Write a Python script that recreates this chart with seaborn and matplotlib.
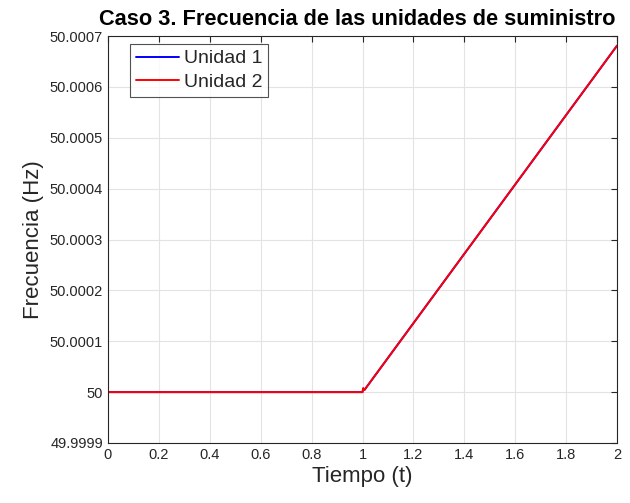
import numpy as np
import pandas as pd
import matplotlib
matplotlib.use("Agg")
import matplotlib.pyplot as plt
import seaborn as sns
from matplotlib.ticker import FuncFormatter

# Time samples (s) and frequency of each supply unit (Hz)
tiempo = [0.0, 0.5, 1.0, 1.003, 1.008, 1.5, 2.0]
unidad1 = [50.0, 50.0, 50.0, 50.0000075, 50.0000045, 50.00034, 50.000681]
unidad2 = [50.0, 50.0, 50.0, 50.0000075, 50.0000045, 50.00034, 50.000681]

series = ["Unidad 1", "Unidad 2"]
colores = ["#0000ff", "#ff0000"]

yticks = [49.9999, 50.0, 50.0001, 50.0002, 50.0003, 50.0004, 50.0005, 50.0006, 50.0007]
xticks = [0, 0.2, 0.4, 0.6, 0.8, 1.0, 1.2, 1.4, 1.6, 1.8, 2.0]

df = pd.concat([
    pd.DataFrame({"t": tiempo, "f": unidad1, "serie": series[0]}),
    pd.DataFrame({"t": tiempo, "f": unidad2, "serie": series[1]}),
])

sns.set_style("white")
plt.rcParams["font.family"] = ["Liberation Sans", "DejaVu Sans"]

fig = plt.figure(figsize=(6.3, 5.03), dpi=100)
ax = fig.add_axes([0.1714, 0.1193, 0.8080, 0.8091])

sns.lineplot(data=df, x="t", y="f", hue="serie", palette=colores,
             linewidth=1.4, ax=ax, estimator=None, sort=False)

ax.set_xlim(0, 2)
ax.set_ylim(49.9999, 50.0007)
ax.set_xticks(xticks)
ax.set_yticks(yticks)
ax.xaxis.set_major_formatter(FuncFormatter(lambda v, p: f"{v:g}"))
ax.yaxis.set_major_formatter(FuncFormatter(lambda v, p: f"{v:.4f}".rstrip("0").rstrip(".")))

ax.grid(True, color="#e3e3e3", linewidth=0.8)
ax.set_axisbelow(True)
for s in ax.spines.values():
    s.set_color("#262626")
    s.set_linewidth(0.8)
ax.tick_params(direction="in", top=True, right=True, length=4, width=0.8,
               colors="#262626", labelsize=10.5, labelcolor="#262626")

ax.set_xlabel("Tiempo (t)", fontsize=16, color="#262626", labelpad=3)
ax.set_ylabel("Frecuencia (Hz)", fontsize=16, color="#262626")
ax.set_title("Caso 3. Frecuencia de las unidades de suministro",
             fontsize=15.7, fontweight="bold", color="black", pad=8, x=0.49)

leg = ax.legend(loc="upper left", bbox_to_anchor=(0.035, 0.99), fontsize=14,
                frameon=True, fancybox=False, edgecolor="#262626",
                handlelength=2.25, borderpad=0.3, labelspacing=0.3,
                handletextpad=0.25, borderaxespad=0.2)
leg.get_frame().set_linewidth(0.8)

fig.savefig("out.png", dpi=100)
